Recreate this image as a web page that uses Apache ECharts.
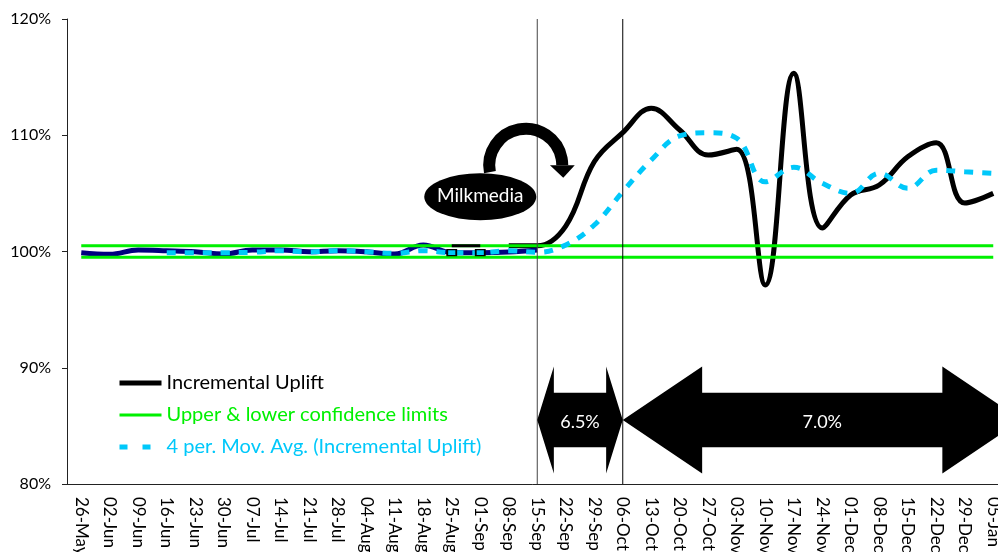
<!DOCTYPE html>
<html>
<head>
<meta charset="utf-8">
<script src="https://cdn.jsdelivr.net/npm/echarts@6/dist/echarts.min.js"></script>
<style>
html,body{margin:0;padding:0;background:#fff;}
#main{width:998px;height:552px;}
</style>
</head>
<body>
<div id="main"></div>
<script>
// ---- data ----
const categories = ['26-May','02-Jun','09-Jun','16-Jun','23-Jun','30-Jun','07-Jul','14-Jul','21-Jul','28-Jul',
  '04-Aug','11-Aug','18-Aug','25-Aug','01-Sep','08-Sep','15-Sep','22-Sep','29-Sep','06-Oct','13-Oct','20-Oct',
  '27-Oct','03-Nov','10-Nov','17-Nov','24-Nov','01-Dec','08-Dec','15-Dec','22-Dec','29-Dec','05-Jan'];
const yTicks = [80, 90, 100, 110, 120];

// Incremental uplift, campaign period (black)
const upliftCampaign = [null,null,null,null,null,null,null,null,null,null,null,null,null,null,null,
  100.5,100.5,102.19,107.72,110.22,112.32,110.45,108.3,108.79,97.12,115.33,102.02,104.86,105.72,108.15,109.36,104.17,105.0];
// Incremental uplift, pre period (navy)
const upliftPre = [99.9,99.76,100.13,100.07,99.98,99.78,100.13,100.13,99.98,100.07,99.98,99.78,100.56,99.9,99.9,99.96,100.13,
  null,null,null,null,null,null,null,null,null,null,null,null,null,null,null,null];
// 4 period moving average (cyan)
const movAvg = [null,null,null,99.9,99.9,99.9,99.93,100.07,99.96,100.07,99.98,99.84,100.07,99.9,99.9,100.07,99.93,
  100.56,102.28,105.14,107.87,109.94,110.22,109.74,106.0,107.24,105.87,105.0,106.73,105.44,107.0,106.86,106.73];
// confidence limits
const upperLimit = [100.5,100.5,100.5,100.5,100.5,100.5,100.5,100.5,100.5,100.5,100.5,100.5,100.5,100.5,100.5,100.5,100.5,
  100.5,100.5,100.5,100.5,100.5,100.5,100.5,100.5,100.5,100.5,100.5,100.5,100.5,100.5,100.5,100.5];
const lowerLimit = [99.5,99.5,99.5,99.5,99.5,99.5,99.5,99.5,99.5,99.5,99.5,99.5,99.5,99.5,99.5,99.5,99.5,
  99.5,99.5,99.5,99.5,99.5,99.5,99.5,99.5,99.5,99.5,99.5,99.5,99.5,99.5,99.5,99.5];
// small black segment on the upper limit before campaign
const blackSeg = [null,null,null,null,null,null,null,null,null,null,null,null,null,100.5,100.5,
  null,null,null,null,null,null,null,null,null,null,null,null,null,null,null,null,null,null];
// boxed markers
const boxMarks = [null,null,null,null,null,null,null,null,null,null,null,null,null,99.9,99.9,
  null,null,null,null,null,null,null,null,null,null,null,null,null,null,null,null,null,null];

const campaignLabels = ['6.5%', '7.0%'];
const calloutText = 'Milkmedia';

const FONT = 'Lato, "Open Sans", sans-serif';
const GREEN = '#00F000';
const CYAN = '#00C8FA';

const chart = echarts.init(document.getElementById('main'), null, {renderer: 'canvas'});

const option = {
  animation: false,
  backgroundColor: '#fff',
  grid: {left: 67, top: 19, width: 940.5, height: 465, containLabel: false, outerBoundsMode: 'none'},
  legend: {
    orient: 'vertical', left: 112, top: 368,
    itemWidth: 42, itemHeight: 12, itemGap: 12,
    selectedMode: false,
    textStyle: {fontFamily: FONT, fontSize: 20, lineHeight: 20},
    data: [
      {name: 'Incremental Uplift', textStyle: {color: '#000'}, lineStyle: {width: 5, color: '#000'}, itemStyle: {opacity: 0}},
      {name: 'Upper & lower confidence limits', textStyle: {color: GREEN}, lineStyle: {width: 3, color: GREEN}, itemStyle: {opacity: 0}},
      {name: '4 per. Mov. Avg. (Incremental Uplift)', textStyle: {color: CYAN}, lineStyle: {width: 5, color: CYAN, type: [8, 15]}, itemStyle: {opacity: 0}}
    ]
  },
  xAxis: {
    type: 'category', data: categories, boundaryGap: true,
    axisLine: {lineStyle: {color: '#222', width: 1}},
    axisTick: {inside: true, length: 6, interval: 0, lineStyle: {color: '#222'}},
    axisLabel: {interval: 0, rotate: -90, margin: 13, color: '#000', fontFamily: FONT, fontSize: 17},
    splitLine: {show: false}
  },
  yAxis: {
    type: 'value', min: yTicks[0], max: yTicks[yTicks.length - 1], interval: 10,
    axisLine: {show: true, lineStyle: {color: '#222', width: 1}},
    axisTick: {show: true, length: 5, lineStyle: {color: '#222'}},
    axisLabel: {formatter: '{value}%', margin: 16, color: '#000', fontFamily: FONT, fontSize: 16},
    splitLine: {show: false}
  },
  series: [
    {name: 'Incremental Uplift', type: 'line', data: upliftCampaign, smooth: 0.4, symbol: 'none', z: 2,
      lineStyle: {color: '#000', width: 5}, itemStyle: {color: '#000'}},
    {name: 'pre', type: 'line', data: upliftPre, smooth: 0.4, symbol: 'none', z: 3,
      lineStyle: {color: '#000080', width: 5}, itemStyle: {color: '#000080'}},
    {name: 'Upper & lower confidence limits', type: 'line', data: upperLimit, symbol: 'none', z: 4,
      lineStyle: {color: GREEN, width: 3}, itemStyle: {color: GREEN}},
    {name: 'Upper & lower confidence limits', type: 'line', data: lowerLimit, symbol: 'none', z: 4,
      lineStyle: {color: GREEN, width: 3}, itemStyle: {color: GREEN}},
    {name: 'seg', type: 'line', data: blackSeg, symbol: 'none', z: 5,
      lineStyle: {color: '#000', width: 3}},
    {name: '4 per. Mov. Avg. (Incremental Uplift)', type: 'line', data: movAvg, smooth: 0.4, symbol: 'none', z: 6,
      lineStyle: {color: CYAN, width: 5, type: [9, 9], cap: 'butt'}, itemStyle: {color: CYAN}},
    {name: 'box', type: 'line', data: boxMarks, z: 7, symbol: 'rect', symbolSize: [9, 6], showSymbol: true,
      lineStyle: {width: 0, opacity: 0}, itemStyle: {color: CYAN, borderColor: '#000', borderWidth: 1.5}}
  ]
};
chart.setOption(option);

// ---- annotations positioned from the axes ----
const P = (i, v) => chart.convertToPixel({gridIndex: 0}, [i, v]);
const yTop = P(0, 120)[1], yBot = P(0, 80)[1];
const xL1 = P(16.13, 100)[0];   // campaign start line
const xL2 = P(19.03, 100)[0];   // campaign end line
const xEnd = P(32.83, 100)[0];  // right tip of long arrow
const cyA = P(0, 85.5)[1];

function dblArrow(x1, x2, cy, hl, hh, sh) {
  return [[x1, cy], [x1 + hl, cy - hh], [x1 + hl, cy - sh], [x2 - hl, cy - sh], [x2 - hl, cy - hh],
          [x2, cy], [x2 - hl, cy + hh], [x2 - hl, cy + sh], [x1 + hl, cy + sh], [x1 + hl, cy + hh]];
}
const c = P(14.07, 104.71); // callout ellipse centre
const graphics = [
  {type: 'line', shape: {x1: xL1, y1: yTop, x2: xL1, y2: yBot}, style: {stroke: '#444', lineWidth: 1}, z: 10},
  {type: 'line', shape: {x1: xL2, y1: yTop, x2: xL2, y2: yBot}, style: {stroke: '#000', lineWidth: 1}, z: 10},
  {type: 'polygon', shape: {points: dblArrow(xL1, xL2, cyA, 16.6, 53.5, 27.3)}, style: {fill: '#000'}, z: 11},
  {type: 'polygon', shape: {points: dblArrow(xL2, xEnd, cyA, 79.4, 53.5, 27.3)}, style: {fill: '#000'}, z: 11},
  {type: 'text', x: (xL1 + xL2) / 2, y: cyA + 2, z: 12,
    style: {text: campaignLabels[0], fill: '#fff', font: '18px ' + FONT, align: 'center', verticalAlign: 'middle'}},
  {type: 'text', x: (xL2 + xEnd) / 2, y: cyA + 2, z: 12,
    style: {text: campaignLabels[1], fill: '#fff', font: '18px ' + FONT, align: 'center', verticalAlign: 'middle'}},
  {type: 'circle', x: c[0], y: c[1], scaleX: 56 / 23.5, shape: {cx: 0, cy: 0, r: 23.5}, style: {fill: '#000'}, z: 11},
  {type: 'text', x: c[0], y: c[1] - 1, z: 12,
    style: {text: calloutText, fill: '#fff', font: '19px ' + FONT, align: 'center', verticalAlign: 'middle'}},
  {type: 'arc', shape: {cx: c[0] + 45.5, cy: c[1] - 31.5, r: 36.5, startAngle: Math.PI - 0.19, endAngle: 2 * Math.PI, clockwise: true},
    style: {stroke: '#000', lineWidth: 12, fill: null}, z: 11},
  {type: 'polygon', shape: {points: [[c[0] + 69.7, c[1] - 31.5], [c[0] + 94.5, c[1] - 31.5], [c[0] + 83, c[1] - 19]]},
    style: {fill: '#000'}, z: 11}
];
chart.setOption({graphic: graphics});
</script>
</body>
</html>
